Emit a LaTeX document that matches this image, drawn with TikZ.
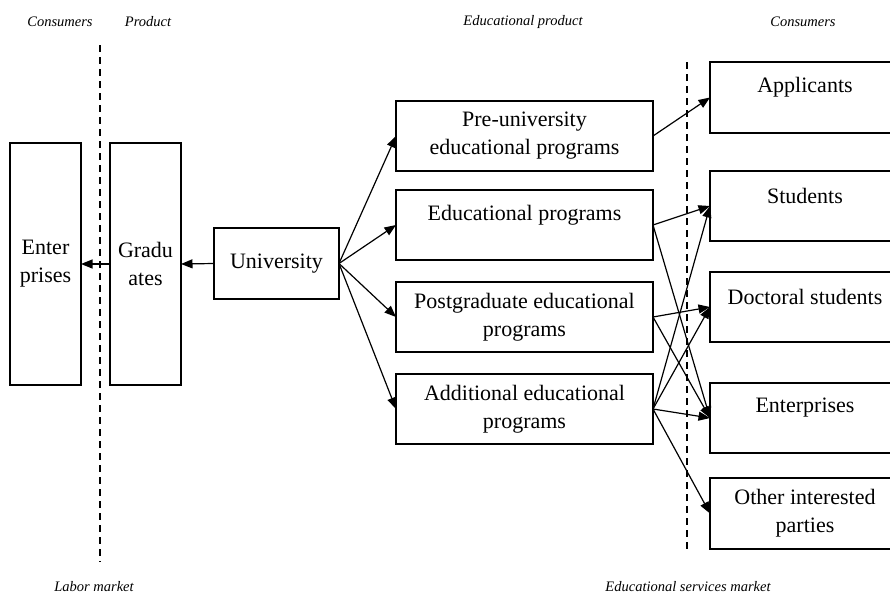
\documentclass[tikz,border=0pt]{standalone}
\usepackage{fontspec}
\setmainfont{Liberation Serif}
\usetikzlibrary{arrows.meta}
\begin{document}
\begin{tikzpicture}[x=1pt,y=-1pt,
  box/.style={draw, line width=1.2pt, inner sep=0pt, outer sep=0pt, align=center,
    font=\fontsize{22}{28}\selectfont},
  boxtext/.style={inner sep=0pt, font=\fontsize{22}{28}\selectfont},
  caption/.style={font=\fontsize{14.5}{17}\selectfont\itshape, inner sep=0pt},
  link/.style={line width=1.2pt, -{Triangle[length=11.5pt,width=9pt]}},
  divider/.style={line width=1.4pt, dash pattern=on 7pt off 5pt}]
\useasboundingbox (0,0) rectangle (890,597);

% column headings
\node[caption] (hcons1) at (60,22) {Consumers};
\node[caption] (hprod) at (148,22) {Product};
\node[caption] (hedu) at (523,22) {Educational product};
\node[caption] (hcons2) at (803,22) {Consumers};

% market names
\node[caption] (labor) at (94,587) {Labor market};
\node[caption] (edmarket) at (688,587) {Educational services market};

% market borders
\coordinate (lt) at (100,45);
\coordinate (lb) at (100,562);
\coordinate (rt) at (687,62);
\coordinate (rb) at (687,550);
\draw[divider] (lt) -- (lb);
\draw[divider] (rt) -- (rb);

% labor market side
\node[box, minimum width=71pt, minimum height=242pt] (ent) at (45.5,264) {Enter\\prises};
\node[box, minimum width=71pt, minimum height=242pt] (grad) at (145.5,264) {Gradu\\ates};
\node[box, minimum width=125pt, minimum height=71pt] (uni) at (276.5,263.5) {University};

% educational products
\node[box, minimum width=257pt, minimum height=70pt] (pre) at (524.5,136) {Pre-university\\educational programs};
\node[box, minimum width=257pt, minimum height=70pt] (edu) at (524.5,225) {};
\node[boxtext] (edut) at ([yshift=10pt]edu.center) {Educational programs};
\node[box, minimum width=257pt, minimum height=70pt] (post) at (524.5,317) {Postgraduate educational\\programs};
\node[box, minimum width=257pt, minimum height=70pt] (add) at (524.5,409) {Additional educational\\programs};

% consumers of educational services
\node[box, minimum width=190pt, minimum height=71pt] (app) at (805,97.5) {};
\node[boxtext] (appt) at ([yshift=10pt]app.center) {Applicants};
\node[box, minimum width=190pt, minimum height=70pt] (stud) at (805,206) {};
\node[boxtext] (studt) at ([yshift=10pt]stud.center) {Students};
\node[box, minimum width=190pt, minimum height=70pt] (doc) at (805,307) {};
\node[boxtext] (doct) at ([yshift=10pt]doc.center) {Doctoral students};
\node[box, minimum width=190pt, minimum height=70pt] (entr) at (805,418) {};
\node[boxtext] (entrt) at ([yshift=10pt]entr.center) {Enterprises};
\node[box, minimum width=190pt, minimum height=71pt] (oth) at (805,513.5) {Other interested\\parties};

% flows
\draw[link] (uni.west) -- (grad.east);
\draw[link] (grad.west) -- (ent.east);

\draw[link] (uni.east) -- (pre.west);
\draw[link] (uni.east) -- (edu.west);
\draw[link] (uni.east) -- (post.west);
\draw[link] (uni.east) -- (add.west);

\draw[link] (pre.east) -- (app.west);
\draw[link] (edu.east) -- (stud.west);
\draw[link] (edu.east) -- (entr.west);
\draw[link] (post.east) -- (doc.west);
\draw[link] (post.east) -- (entr.west);
\draw[link] (add.east) -- (stud.west);
\draw[link] (add.east) -- (doc.west);
\draw[link] (add.east) -- (entr.west);
\draw[link] (add.east) -- (oth.west);
\end{tikzpicture}
\end{document}
